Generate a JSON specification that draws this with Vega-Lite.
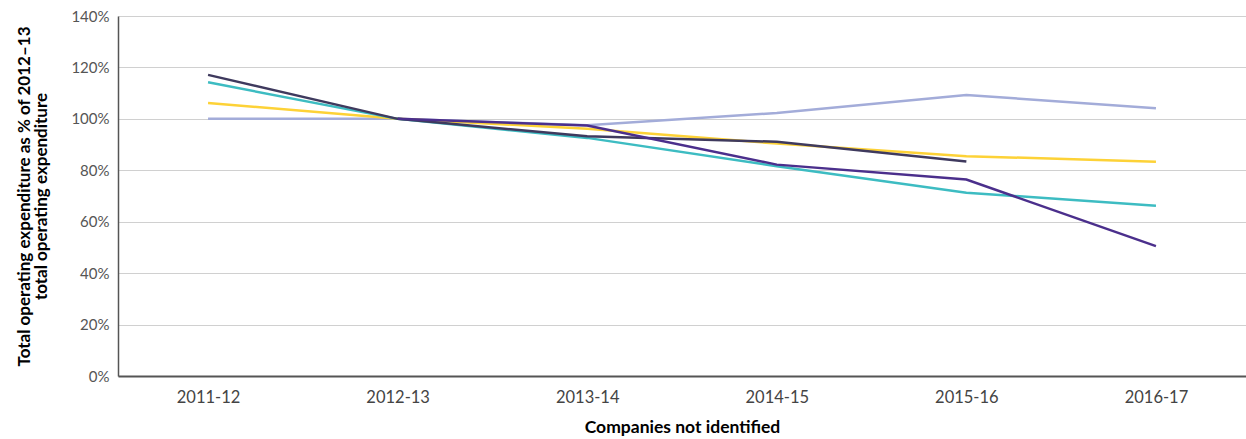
{
  "$schema": "https://vega.github.io/schema/vega-lite/v6.json",
  "width": 1128,
  "height": 360,
  "autosize": {"type": "none"},
  "padding": {"left": 118, "top": 16, "right": 0, "bottom": 63},
  "background": "white",
  "config": {"view": {"stroke": null}, "font": "Lato"},
  "data": {"values": [
    {"s": "s1", "year": "2011-12", "v": 100},
    {"s": "s1", "year": "2012-13", "v": 100},
    {"s": "s1", "year": "2013-14", "v": 97.5},
    {"s": "s1", "year": "2014-15", "v": 102.3},
    {"s": "s1", "year": "2015-16", "v": 109.3},
    {"s": "s1", "year": "2016-17", "v": 104.1},
    {"s": "s2", "year": "2011-12", "v": 106.2},
    {"s": "s2", "year": "2012-13", "v": 100},
    {"s": "s2", "year": "2013-14", "v": 96.2},
    {"s": "s2", "year": "2014-15", "v": 90.4},
    {"s": "s2", "year": "2015-16", "v": 85.5},
    {"s": "s2", "year": "2016-17", "v": 83.3},
    {"s": "s3", "year": "2011-12", "v": 114.2},
    {"s": "s3", "year": "2012-13", "v": 100},
    {"s": "s3", "year": "2013-14", "v": 92.6},
    {"s": "s3", "year": "2014-15", "v": 81.6},
    {"s": "s3", "year": "2015-16", "v": 71.3},
    {"s": "s3", "year": "2016-17", "v": 66.2},
    {"s": "s4", "year": "2011-12", "v": 117.1},
    {"s": "s4", "year": "2012-13", "v": 100},
    {"s": "s4", "year": "2013-14", "v": 93.2},
    {"s": "s4", "year": "2014-15", "v": 91.1},
    {"s": "s4", "year": "2015-16", "v": 83.4},
    {"s": "s5", "year": "2012-13", "v": 100},
    {"s": "s5", "year": "2013-14", "v": 97.4},
    {"s": "s5", "year": "2014-15", "v": 82.2},
    {"s": "s5", "year": "2015-16", "v": 76.4},
    {"s": "s5", "year": "2016-17", "v": 50.5}
  ]},
  "mark": {"type": "line", "strokeWidth": 2.5, "strokeCap": "butt"},
  "encoding": {
    "x": {
      "field": "year", "type": "ordinal",
      "scale": {"type": "point", "padding": 0.475},
      "axis": {
        "title": "Companies not identified",
        "titleFont": "Lato", "titleFontSize": 17.5, "titleFontWeight": "bold", "titleColor": "#000",
        "titlePadding": 13,
        "labelAngle": 0, "labelFontSize": 16.5, "labelColor": "#444", "labelFont": "Lato", "labelFontWeight": "normal",
        "labelPadding": 13,
        "ticks": false, "domainColor": "#555", "domainWidth": 2, "grid": false
      }
    },
    "y": {
      "field": "v", "type": "quantitative",
      "scale": {"domain": [0, 140], "nice": false},
      "axis": {
        "values": [0, 20, 40, 60, 80, 100, 120, 140],
        "labelExpr": "datum.value + '%'",
        "title": ["Total operating expenditure as % of 2012–13", "total operating expenditure"],
        "titleFont": "Lato", "titleFontSize": 17, "titleFontWeight": "bold", "titleColor": "#000",
        "titlePadding": 20, "titleLineHeight": 17,
        "labelFontSize": 15, "labelColor": "#555", "labelFont": "Lato", "labelFontWeight": "normal",
        "labelPadding": 9,
        "ticks": false, "domainColor": "#555", "domainWidth": 1.5,
        "gridColor": "#d0d0d0", "gridWidth": 1
      }
    },
    "color": {
      "field": "s", "type": "nominal", "legend": null,
      "scale": {"domain": ["s1", "s2", "s3", "s4", "s5"],
                "range": ["#a3acd9", "#fdd237", "#3dbcc2", "#3f3a5e", "#4b2f8c"]}
    }
  }
}
